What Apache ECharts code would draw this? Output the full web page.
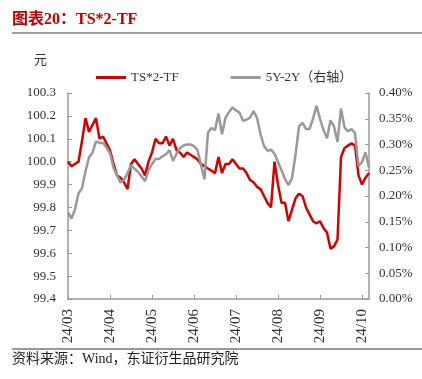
<!DOCTYPE html>
<html><head><meta charset="utf-8">
<script src="https://cdn.jsdelivr.net/npm/echarts@6/dist/echarts.min.js"></script>
<style>html,body{margin:0;padding:0;background:#fff}#c{width:422px;height:379px}</style>
</head><body><div id="c"></div>
<script>
var monthLabels = ['24/03','24/04','24/05','24/06','24/07','24/08','24/09','24/10'];
var leftTicks = [99.4, 100.3, 0.1];
var rightTicks = [0, 0.4, 0.05];
var tsValues = [100.00,99.98,99.99,100.00,100.09,100.19,100.13,100.16,100.19,100.10,
100.11,100.08,100.05,99.99,99.94,99.93,99.91,99.88,99.99,100.01,
99.99,99.97,99.94,100.00,100.04,100.10,100.08,100.08,100.11,100.07,
100.10,100.05,100.04,100.02,100.04,100.03,100.02,100.01,99.99,99.98,
99.97,99.96,99.95,100.02,99.95,99.99,99.99,100.01,99.99,99.97,
99.97,99.95,99.92,99.91,99.89,99.88,99.85,99.82,99.80,100.00,
99.90,99.82,99.82,99.74,99.79,99.84,99.86,99.85,99.80,99.77,
99.74,99.73,99.74,99.71,99.69,99.62,99.63,99.66,100.02,100.06,
100.07,100.08,100.07,99.94,99.90,99.93,99.95];
var spreadValues = [0.168,0.156,0.174,0.205,0.215,0.248,0.275,0.284,0.306,0.303,
0.303,0.294,0.283,0.255,0.240,0.226,0.231,0.244,0.260,0.253,
0.247,0.238,0.229,0.250,0.262,0.272,0.272,0.277,0.281,0.289,
0.268,0.282,0.293,0.298,0.300,0.300,0.297,0.289,0.260,0.232,
0.323,0.332,0.328,0.360,0.320,0.352,0.363,0.372,0.366,0.362,
0.346,0.348,0.352,0.365,0.352,0.320,0.297,0.288,0.290,0.282,
0.266,0.250,0.233,0.221,0.235,0.280,0.335,0.342,0.330,0.330,
0.350,0.375,0.350,0.328,0.312,0.347,0.335,0.305,0.370,0.333,
0.326,0.330,0.322,0.258,0.266,0.285,0.255];
var perMonth = 12;

var categories = tsValues.map(function(v,i){
  return monthLabels[Math.floor(i/perMonth)] + '#' + (i%perMonth);
});
var FONT = "'Liberation Serif','Noto Sans CJK SC',serif";
var chart = echarts.init(document.getElementById('c'));
chart.setOption({
  animation:false,
  backgroundColor:'#fff',
  textStyle:{fontFamily:FONT},
  grid:{left:68,right:53,top:93,bottom:80},
  legend:{
    left:91, top:66, itemWidth:30, itemHeight:3, itemGap:52, icon:'rect',
    data:['TS*2-TF','5Y-2Y（右轴）'],
    textStyle:{fontFamily:FONT,fontSize:13,color:'#333'}
  },
  xAxis:{
    type:'category', data:categories, boundaryGap:false,
    axisLine:{lineStyle:{color:'#999',width:1.5}},
    axisTick:{inside:true,length:4,interval:function(i){return i%perMonth===0;},lineStyle:{color:'#999'}},
    axisLabel:{rotate:90,margin:10,fontSize:15,color:'#333',fontFamily:FONT,
      interval:function(i){return i%perMonth===0;},
      formatter:function(v){return v.split('#')[0];}},
    splitLine:{show:false}
  },
  yAxis:[{
    type:'value', min:leftTicks[0], max:leftTicks[1], interval:leftTicks[2],
    axisLine:{show:true,lineStyle:{color:'#999',width:1.5}},
    axisTick:{show:true,inside:true,length:4,lineStyle:{color:'#999'}},
    axisLabel:{fontSize:13,color:'#333',margin:12,fontFamily:FONT,formatter:function(v){return v.toFixed(1);}},
    splitLine:{show:false}
  },{
    type:'value', min:rightTicks[0], max:rightTicks[1], interval:rightTicks[2],
    axisLine:{show:true,lineStyle:{color:'#999',width:1.5}},
    axisTick:{show:true,inside:true,length:4,lineStyle:{color:'#999'}},
    axisLabel:{fontSize:13,color:'#333',margin:10,fontFamily:FONT,formatter:function(v){return v.toFixed(2)+'%';}},
    splitLine:{show:false}
  }],
  series:[{
    name:'TS*2-TF', type:'line', yAxisIndex:0, data:tsValues, showSymbol:false,
    lineStyle:{color:'#d40000',width:2.5}, itemStyle:{color:'#d40000'}
  },{
    name:'5Y-2Y（右轴）', type:'line', yAxisIndex:1, data:spreadValues, showSymbol:false,
    lineStyle:{color:'#999999',width:2.5}, itemStyle:{color:'#999999'}
  }],
  graphic:[
    {type:'text',left:12,top:12,style:{text:'图表20：TS*2-TF',fill:'#c00000',font:"bold 16px 'Liberation Serif','Noto Sans CJK SC',serif"}},
    {type:'line',shape:{x1:12,y1:33,x2:422,y2:33},style:{stroke:'#808080',lineWidth:1.5}},
    {type:'text',left:34,top:53,style:{text:'元',fill:'#333',font:"13px 'Noto Sans CJK SC',serif"}},
    {type:'line',shape:{x1:12,y1:349,x2:422,y2:349},style:{stroke:'#333',lineWidth:1}},
    {type:'text',left:12,top:352,style:{text:'资料来源：Wind，东证衍生品研究院',fill:'#222',font:"14px 'Liberation Serif','Noto Sans CJK SC',serif"}}
  ]
});
</script></body></html>
